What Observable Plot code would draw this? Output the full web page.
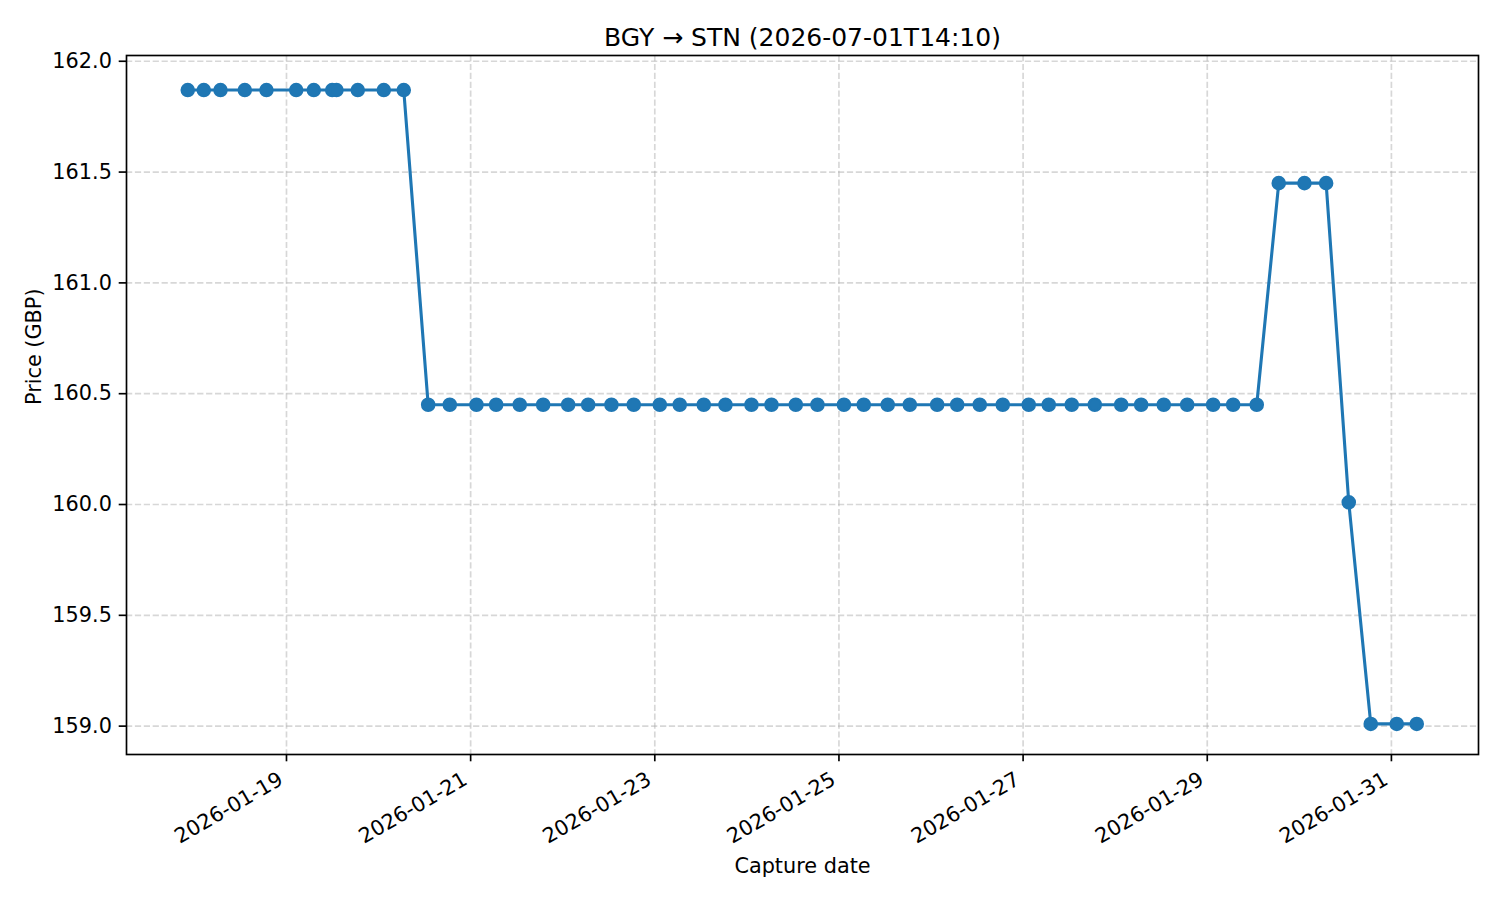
<!DOCTYPE html>
<html>
<head>
<meta charset="utf-8">
<script src="https://cdn.jsdelivr.net/npm/d3@7"></script>
<script src="https://cdn.jsdelivr.net/npm/@observablehq/plot@0.6"></script>
<style>
  html, body { margin: 0; padding: 0; background: #fff; }
  #chart svg { font-family: "DejaVu Sans", sans-serif; }
</style>
</head>
<body>
<div id="chart"></div>
<script>
const title = "BGY → STN (2026-07-01T14:10)";
const xLabel = "Capture date";
const yLabel = "Price (GBP)";

const captureTimes = [
  "2026-01-17T22:16Z","2026-01-18T02:27Z","2026-01-18T06:48Z","2026-01-18T13:08Z","2026-01-18T18:47Z",
  "2026-01-19T02:32Z","2026-01-19T07:07Z","2026-01-19T11:55Z","2026-01-19T13:02Z","2026-01-19T18:35Z",
  "2026-01-20T01:22Z","2026-01-20T06:34Z",
  "2026-01-20T12:56Z","2026-01-20T18:34Z",
  "2026-01-21T01:31Z","2026-01-21T06:39Z","2026-01-21T12:48Z","2026-01-21T18:54Z",
  "2026-01-22T01:25Z","2026-01-22T06:38Z","2026-01-22T12:42Z","2026-01-22T18:31Z",
  "2026-01-23T01:18Z","2026-01-23T06:30Z","2026-01-23T12:46Z","2026-01-23T18:25Z",
  "2026-01-24T01:12Z","2026-01-24T06:25Z","2026-01-24T12:45Z","2026-01-24T18:24Z",
  "2026-01-25T01:18Z","2026-01-25T06:28Z","2026-01-25T12:43Z","2026-01-25T18:28Z",
  "2026-01-26T01:36Z","2026-01-26T06:49Z","2026-01-26T12:42Z","2026-01-26T18:42Z",
  "2026-01-27T01:28Z","2026-01-27T06:41Z","2026-01-27T12:41Z","2026-01-27T18:41Z",
  "2026-01-28T01:34Z","2026-01-28T06:46Z","2026-01-28T12:40Z","2026-01-28T18:46Z",
  "2026-01-29T01:32Z","2026-01-29T06:45Z","2026-01-29T12:54Z",
  "2026-01-29T18:38Z","2026-01-30T01:20Z","2026-01-30T06:59Z",
  "2026-01-30T12:53Z",
  "2026-01-30T18:37Z","2026-01-31T01:23Z","2026-01-31T06:36Z"
];
const prices = [
  161.87,161.87,161.87,161.87,161.87,161.87,161.87,161.87,161.87,161.87,161.87,161.87,
  160.45,160.45,160.45,160.45,160.45,160.45,160.45,160.45,160.45,160.45,
  160.45,160.45,160.45,160.45,160.45,160.45,160.45,160.45,160.45,160.45,
  160.45,160.45,160.45,160.45,160.45,160.45,160.45,160.45,160.45,160.45,
  160.45,160.45,160.45,160.45,160.45,160.45,160.45,
  161.45,161.45,161.45,
  160.01,
  159.01,159.01,159.01
];
const xTickLabels = ["2026-01-19","2026-01-21","2026-01-23","2026-01-25","2026-01-27","2026-01-29","2026-01-31"];
const yTicks = [159.0, 159.5, 160.0, 160.5, 161.0, 161.5, 162.0];

const data = captureTimes.map((t, i) => ({date: new Date(t), price: prices[i]}));
const xTicks = xTickLabels.map(s => new Date(s + "T00:00Z"));
const fmtDay = d3.utcFormat("%Y-%m-%d");

const blue = "#1f77b4";
const gridStyle = {stroke: "#b0b0b0", strokeOpacity: 0.5, strokeWidth: 1.67, strokeDasharray: "6.2,2.7"};
const fs = 20.8;

const chart = Plot.plot({
  width: 1500,
  height: 900,
  marginLeft: 126,
  marginRight: 22,
  marginTop: 55,
  marginBottom: 146,
  style: {fontFamily: "DejaVu Sans, sans-serif", background: "#fff", color: "#000"},
  x: {type: "utc", domain: [new Date("2026-01-17T06:18Z"), new Date("2026-01-31T22:42Z")]},
  y: {domain: [158.872, 162.026]},
  marks: [
    Plot.gridX(xTicks, {...gridStyle}),
    Plot.gridY(yTicks, {...gridStyle}),
    Plot.line(data, {x: "date", y: "price", stroke: blue, strokeWidth: 3.1}),
    Plot.dot(data, {x: "date", y: "price", r: 6.25, fill: blue, stroke: blue, strokeWidth: 2.08}),
    Plot.frame({stroke: "#000", strokeWidth: 1.67}),
    Plot.axisX(xTicks, {
      tickFormat: () => "",
      tickSize: 7.3,
      label: null,
      stroke: "#000",
      strokeWidth: 1.67
    }),
    Plot.text(xTicks, {
      x: d => d,
      text: d => fmtDay(d),
      frameAnchor: "bottom",
      rotate: -30,
      textAnchor: "end",
      lineAnchor: "bottom",
      dx: -2,
      dy: 29,
      fontSize: fs,
      fill: "#000"
    }),
    Plot.axisY(yTicks, {
      tickFormat: d => d.toFixed(1),
      tickSize: 7.3,
      tickPadding: 7.3,
      fontSize: fs,
      label: null,
      stroke: "#000",
      strokeWidth: 1.67,
      fill: "#000"
    }),
    Plot.text([title], {frameAnchor: "top", lineAnchor: "bottom", dy: -10, text: d => d, fontSize: 25, fill: "#000"}),
    Plot.text([xLabel], {frameAnchor: "bottom", lineAnchor: "bottom", dy: 118.5, text: d => d, fontSize: fs, fill: "#000"}),
    Plot.text([yLabel], {frameAnchor: "left", lineAnchor: "bottom", dx: -86, rotate: -90, text: d => d, fontSize: fs, fill: "#000"})
  ]
});
document.getElementById("chart").appendChild(chart);
</script>
</body>
</html>
